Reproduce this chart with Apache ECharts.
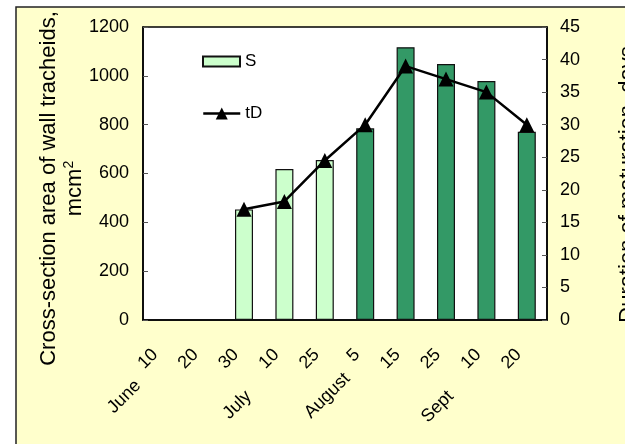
<!DOCTYPE html>
<html>
<head>
<meta charset="utf-8">
<script src="https://cdn.jsdelivr.net/npm/echarts@6/dist/echarts.min.js"></script>
<style>
  html, body { margin: 0; padding: 0; background: #fff; }
  #chart { width: 625px; height: 444px; }
</style>
</head>
<body>
<div id="chart"></div>
<script>
// sampling dates, month written before the first date of each month
var dates = ['June 10', '20', '30', 'July    10', '25', 'August 5', '15', '25', 'Sept    10', '20'];
// S - cross-section area of wall tracheids, mcm2
var sValues = [null, null, 453, 618, 655, 785, 1117, 1048, 979, 771];
// tD - duration of maturation, days
var tdValues = [null, null, 17, 18.2, 24.5, 30, 39, 37, 35, 30];
var leftTicks = [0, 1200, 200];
var rightTicks = [0, 45, 5];
var darkFrom = 5; // bars from August 5 on are dark green

var sans = "'Liberation Sans', Arial, sans-serif";
var plain = function (v) { return String(v); };

var chart = echarts.init(document.getElementById('chart'));

var legendBase = {
  orient: 'vertical',
  left: 197,
  itemWidth: 37,
  textStyle: {fontFamily: sans, fontSize: 17, color: '#000'}
};

chart.setOption({
  animation: false,
  backgroundColor: '#fff',
  graphic: [{
    type: 'rect',
    z: -100,
    silent: true,
    shape: {x: 16, y: 7, width: 700, height: 500},
    style: {fill: '#FFFFCC', stroke: '#222', lineWidth: 1.5}
  }],
  grid: {
    left: 143, top: 27, right: 78, bottom: 124,
    outerBoundsMode: 'none',
    containLabel: false,
    show: true, backgroundColor: '#fff', borderColor: '#000', borderWidth: 1.5
  },
  legend: [
    echarts.util.extend({top: 48, itemHeight: 10, data: [{name: 'S', icon: 'rect'}]}, legendBase),
    echarts.util.extend({
      top: 100, itemHeight: 15, data: ['tD'],
      lineStyle: {width: 2.5, color: '#000'}
    }, legendBase)
  ],
  xAxis: {
    type: 'category',
    data: dates,
    axisLine: {lineStyle: {color: '#000', width: 1.5}},
    axisTick: {inside: true, length: 6, lineStyle: {color: '#555'}},
    axisLabel: {
      interval: 0,
      rotate: 45,
      margin: 40,
      padding: [0, 0, 23, 0],
      color: '#000',
      fontFamily: sans,
      fontSize: 18,
      formatter: function (v) {
        var m = v.match(/^(\D+\s+)(\d+)$/);
        return m ? '{m|' + m[1] + '}' + m[2] : v;
      },
      rich: {
        m: {fontFamily: sans, fontSize: 18, color: '#000', padding: [20, 9, 0, 0]}
      }
    }
  },
  yAxis: [{
    type: 'value',
    position: 'left',
    min: leftTicks[0], max: leftTicks[1], interval: leftTicks[2],
    name: 'Cross-section area of wall tracheids,\n{u|mcm}{sup|2}',
    nameLocation: 'middle',
    nameGap: 55,
    nameMoveOverlap: false,
    nameTextStyle: {
      fontFamily: sans, fontSize: 22, color: '#000', lineHeight: 26,
      padding: [0, 30, 0, 0],
      rich: {
        u: {fontFamily: sans, fontSize: 22, color: '#000', lineHeight: 26},
        sup: {fontFamily: sans, fontSize: 14, color: '#000', lineHeight: 14, verticalAlign: 'top'}
      }
    },
    splitLine: {show: false},
    axisLine: {show: true, lineStyle: {color: '#000', width: 1.5}},
    axisTick: {show: true, inside: true, length: 5, lineStyle: {color: '#555'}},
    axisLabel: {margin: 14, color: '#000', fontFamily: sans, fontSize: 18, formatter: plain}
  }, {
    type: 'value',
    position: 'right',
    min: rightTicks[0], max: rightTicks[1], interval: rightTicks[2],
    name: 'Duration of maturation, days',
    nameLocation: 'middle',
    nameRotate: 90,
    nameGap: 70,
    nameMoveOverlap: false,
    nameTextStyle: {fontFamily: sans, fontSize: 22, color: '#000', padding: [0, 22, 0, 0]},
    splitLine: {show: false},
    axisLine: {show: true, lineStyle: {color: '#000', width: 1.5}},
    axisTick: {show: true, inside: true, length: 5, lineStyle: {color: '#555'}},
    axisLabel: {margin: 13, color: '#000', fontFamily: sans, fontSize: 18, formatter: plain}
  }],
  series: [{
    name: 'S',
    type: 'bar',
    yAxisIndex: 0,
    barWidth: 18,
    itemStyle: {color: '#CCFFCC', borderColor: '#111', borderWidth: 1.2},
    data: sValues.map(function (v, i) {
      return {value: v, itemStyle: {color: i >= darkFrom ? '#339966' : '#CCFFCC'}};
    })
  }, {
    name: 'tD',
    type: 'line',
    yAxisIndex: 1,
    data: tdValues,
    symbol: 'triangle',
    symbolSize: 15,
    lineStyle: {color: '#000', width: 2.5},
    itemStyle: {color: '#000'}
  }]
});
</script>
</body>
</html>
